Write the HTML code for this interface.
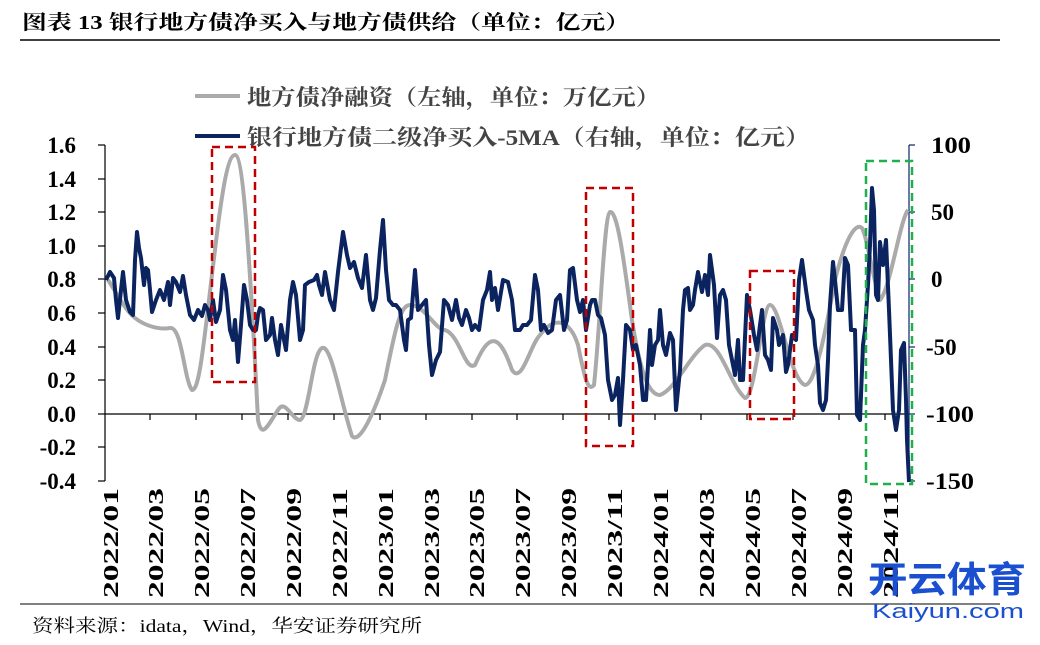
<!DOCTYPE html>
<html><head><meta charset="utf-8"><style>
body{margin:0;width:1040px;height:645px;background:#fff;overflow:hidden}
svg{display:block}
</style></head><body>
<svg width="1040" height="645" xmlns="http://www.w3.org/2000/svg" font-family="'Liberation Serif','Noto Serif CJK SC',serif">
<text x="22" y="29" font-size="20" font-weight="bold" fill="#000" textLength="608" lengthAdjust="spacingAndGlyphs">图表 13 银行地方债净买入与地方债供给（单位：亿元）</text>
<line x1="20" y1="40" x2="1000" y2="40" stroke="#000" stroke-width="1.5"/>
<!-- legend -->
<line x1="195" y1="96" x2="240" y2="96" stroke="#aaa" stroke-width="4"/>
<text x="247" y="105" font-size="22" fill="#444" font-weight="bold" textLength="413" lengthAdjust="spacingAndGlyphs">地方债净融资（左轴，单位：万亿元）</text>
<line x1="195" y1="136" x2="240" y2="136" stroke="#0b2460" stroke-width="4"/>
<text x="247" y="145" font-size="22" fill="#444" font-weight="bold" textLength="563" lengthAdjust="spacingAndGlyphs">银行地方债二级净买入-5MA（右轴，单位：亿元）</text>
<!-- left axis -->
<g font-size="23" font-weight="bold" text-anchor="end" fill="#000">
<text x="76" y="153">1.6</text><text x="76" y="187">1.4</text><text x="76" y="220">1.2</text><text x="76" y="254">1.0</text><text x="76" y="287">0.8</text><text x="76" y="321">0.6</text><text x="76" y="355">0.4</text><text x="76" y="388">0.2</text><text x="76" y="422">0.0</text><text x="76" y="455">-0.2</text><text x="76" y="489">-0.4</text>
</g>
<g stroke="#000" stroke-width="1.2">
<line x1="105" y1="145" x2="105" y2="481"/>
<line x1="98" y1="145" x2="105" y2="145"/><line x1="98" y1="179" x2="105" y2="179"/><line x1="98" y1="212" x2="105" y2="212"/><line x1="98" y1="246" x2="105" y2="246"/><line x1="98" y1="279" x2="105" y2="279"/><line x1="98" y1="313" x2="105" y2="313"/><line x1="98" y1="347" x2="105" y2="347"/><line x1="98" y1="380" x2="105" y2="380"/><line x1="98" y1="414" x2="105" y2="414"/><line x1="98" y1="447" x2="105" y2="447"/><line x1="98" y1="481" x2="105" y2="481"/>
<line x1="105" y1="414" x2="909" y2="414"/>
<line x1="150" y1="414" x2="150" y2="420"/><line x1="196" y1="414" x2="196" y2="420"/><line x1="242" y1="414" x2="242" y2="420"/><line x1="288" y1="414" x2="288" y2="420"/><line x1="334" y1="414" x2="334" y2="420"/><line x1="380" y1="414" x2="380" y2="420"/><line x1="426" y1="414" x2="426" y2="420"/><line x1="472" y1="414" x2="472" y2="420"/><line x1="517" y1="414" x2="517" y2="420"/><line x1="563" y1="414" x2="563" y2="420"/><line x1="609" y1="414" x2="609" y2="420"/><line x1="655" y1="414" x2="655" y2="420"/><line x1="701" y1="414" x2="701" y2="420"/><line x1="747" y1="414" x2="747" y2="420"/><line x1="793" y1="414" x2="793" y2="420"/><line x1="839" y1="414" x2="839" y2="420"/><line x1="885" y1="414" x2="885" y2="420"/>
</g>
<!-- right axis -->
<g stroke="#0b2460" stroke-width="1.2">
<line x1="909" y1="145" x2="909" y2="481"/>
<line x1="909" y1="145" x2="915" y2="145"/><line x1="909" y1="212" x2="915" y2="212"/><line x1="909" y1="279" x2="915" y2="279"/><line x1="909" y1="347" x2="915" y2="347"/><line x1="909" y1="414" x2="915" y2="414"/><line x1="909" y1="481" x2="915" y2="481"/>
</g>
<g font-size="23" font-weight="bold" fill="#000">
<text x="931" y="153" textLength="40" lengthAdjust="spacingAndGlyphs">100</text><text x="931" y="220">50</text><text x="931" y="287">0</text><text x="926" y="355">-50</text><text x="926" y="422" textLength="48" lengthAdjust="spacingAndGlyphs">-100</text><text x="926" y="489" textLength="48" lengthAdjust="spacingAndGlyphs">-150</text>
</g>
<!-- x labels -->
<g font-size="21" font-weight="bold" fill="#000" text-anchor="end">
<text transform="translate(118,488) rotate(-90)" textLength="110" lengthAdjust="spacingAndGlyphs">2022/01</text>
<text transform="translate(163,488) rotate(-90)" textLength="110" lengthAdjust="spacingAndGlyphs">2022/03</text>
<text transform="translate(209,488) rotate(-90)" textLength="110" lengthAdjust="spacingAndGlyphs">2022/05</text>
<text transform="translate(255,488) rotate(-90)" textLength="110" lengthAdjust="spacingAndGlyphs">2022/07</text>
<text transform="translate(301,488) rotate(-90)" textLength="110" lengthAdjust="spacingAndGlyphs">2022/09</text>
<text transform="translate(347,488) rotate(-90)" textLength="110" lengthAdjust="spacingAndGlyphs">2022/11</text>
<text transform="translate(393,488) rotate(-90)" textLength="110" lengthAdjust="spacingAndGlyphs">2023/01</text>
<text transform="translate(439,488) rotate(-90)" textLength="110" lengthAdjust="spacingAndGlyphs">2023/03</text>
<text transform="translate(484,488) rotate(-90)" textLength="110" lengthAdjust="spacingAndGlyphs">2023/05</text>
<text transform="translate(530,488) rotate(-90)" textLength="110" lengthAdjust="spacingAndGlyphs">2023/07</text>
<text transform="translate(576,488) rotate(-90)" textLength="110" lengthAdjust="spacingAndGlyphs">2023/09</text>
<text transform="translate(622,488) rotate(-90)" textLength="110" lengthAdjust="spacingAndGlyphs">2023/11</text>
<text transform="translate(668,488) rotate(-90)" textLength="110" lengthAdjust="spacingAndGlyphs">2024/01</text>
<text transform="translate(714,488) rotate(-90)" textLength="110" lengthAdjust="spacingAndGlyphs">2024/03</text>
<text transform="translate(760,488) rotate(-90)" textLength="110" lengthAdjust="spacingAndGlyphs">2024/05</text>
<text transform="translate(806,488) rotate(-90)" textLength="110" lengthAdjust="spacingAndGlyphs">2024/07</text>
<text transform="translate(852,488) rotate(-90)" textLength="110" lengthAdjust="spacingAndGlyphs">2024/09</text>
<text transform="translate(898,488) rotate(-90)" textLength="110" lengthAdjust="spacingAndGlyphs">2024/11</text>
</g>
<!-- gray -->
<path fill="none" stroke="#aaa" stroke-width="4" stroke-linejoin="round" d="M108,280 C118,295 125,310 135,318 C145,326 160,330 170,328 C182,326 184,380 192,390 C200,392 205,330 215,250 C222,190 228,155 235,155 C242,155 248,220 258,420 C262,440 268,425 278,410 C285,398 292,420 300,420 C308,418 312,360 320,350 C330,335 340,400 352,436 C360,445 375,410 385,380 C395,330 400,305 410,305 C425,305 435,330 445,330 C460,335 465,372 475,365 C490,330 500,335 512,370 C522,385 530,345 540,335 C555,315 570,320 578,345 C585,380 588,392 594,385 C600,330 604,215 610,212 C618,210 625,270 632,320 C640,370 648,395 660,395 C675,390 690,355 705,345 C720,340 730,385 745,398 C755,400 762,305 770,305 C780,305 790,380 805,385 C815,385 825,335 835,280 C845,240 855,222 862,228 C868,240 872,275 880,300 C890,290 900,220 908,210"/>
<!-- blue -->
<polyline fill="none" stroke="#0b2460" stroke-width="4" stroke-linejoin="round" points="106,280 110,272 114,278 116,300 118,318 121,290 123,272 126,300 130,312 133,315 135,260 137,232 139,248 141,258 144,285 146,268 148,270 150,290 152,312 156,300 160,290 164,300 168,282 170,305 173,278 176,282 180,292 183,276 186,295 190,315 194,320 198,310 202,316 205,305 208,310 210,320 213,300 216,322 220,310 223,275 226,290 230,330 233,340 235,320 238,362 241,325 244,285 247,300 250,325 253,330 256,330 258,315 260,308 263,310 266,340 270,335 272,318 275,340 278,355 281,325 284,340 286,350 290,300 293,282 296,295 300,340 303,330 305,285 309,282 314,280 317,275 319,285 322,295 325,272 330,300 334,310 338,272 343,232 347,255 350,268 354,262 358,278 362,288 366,255 370,300 373,310 376,298 380,250 383,220 386,270 389,300 393,305 396,305 400,310 404,340 406,350 408,320 411,318 415,270 418,310 422,305 426,300 429,345 432,375 436,360 440,352 444,300 448,305 452,320 456,300 459,318 462,325 466,310 469,318 472,330 475,325 479,330 483,300 487,290 490,272 492,300 495,288 498,310 503,280 508,282 512,300 515,330 520,330 523,325 527,325 531,320 535,275 538,290 541,330 544,325 548,333 552,330 556,300 560,295 564,330 567,320 570,270 573,268 577,300 580,312 583,300 586,330 590,305 592,300 595,300 598,315 601,318 605,335 608,380 612,400 615,395 618,378 620,425 623,380 626,325 630,330 633,350 636,345 640,365 643,400 646,400 650,330 652,365 655,345 658,340 660,310 663,345 666,355 670,333 673,340 676,410 680,370 683,310 685,290 688,288 690,310 693,305 695,290 698,272 700,282 702,292 705,275 708,295 710,255 714,285 717,338 720,295 723,290 726,300 729,345 732,360 735,375 738,340 740,380 743,380 747,295 750,310 754,335 757,350 760,325 762,310 765,355 768,360 771,370 773,318 777,330 779,345 783,335 786,372 788,365 792,335 796,340 799,280 802,260 806,290 809,310 813,320 815,345 818,365 820,403 823,410 826,400 828,360 830,305 833,262 835,280 838,310 842,310 845,258 848,265 851,330 855,330 857,415 860,420 863,345 865,330 868,285 870,245 872,188 874,210 876,295 878,300 880,242 883,265 886,240 889,310 891,360 893,410 896,430 899,410 901,350 904,343 906,400 907,440 909,482"/>
<!-- boxes -->
<g fill="none" stroke-width="2.5" stroke-dasharray="8,5">
<rect x="212" y="147" width="43" height="235" stroke="#c00000"/>
<rect x="586" y="188" width="47" height="258" stroke="#c00000"/>
<rect x="750" y="271" width="44" height="148" stroke="#c00000"/>
<rect x="866" y="161" width="46" height="323" stroke="#1db04d"/>
</g>
<line x1="20" y1="604" x2="1000" y2="604" stroke="#000" stroke-width="1"/>
<text x="32" y="632" font-size="18" fill="#000" textLength="390" lengthAdjust="spacingAndGlyphs">资料来源：idata，Wind，华安证券研究所</text>
<text x="868" y="592" font-size="36" font-weight="bold" fill="#1a4fd0" font-family="'Noto Sans CJK SC',sans-serif" textLength="158" lengthAdjust="spacingAndGlyphs">开云体育</text>
<text x="872" y="618" font-size="20" fill="#1a4fd0" font-family="'Liberation Sans',sans-serif" textLength="152" lengthAdjust="spacingAndGlyphs">Kaiyun.com</text>
</svg>
</body></html>
